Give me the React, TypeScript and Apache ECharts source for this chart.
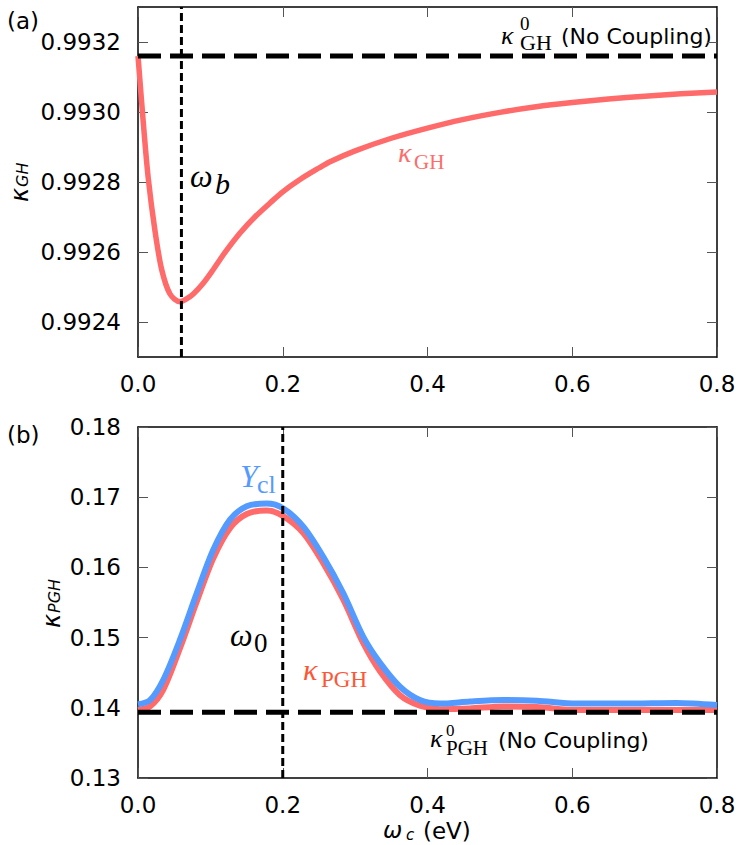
import React, { useEffect, useRef } from "react";
import * as echarts from "echarts";

// ---------- data ----------
const xTicks = [0, 0.2, 0.4, 0.6, 0.8];
const topYTicks = [0.9924, 0.9926, 0.9928, 0.993, 0.9932];
const botYTicks = [0.13, 0.14, 0.15, 0.16, 0.17, 0.18];

const ghX = [0, 0.0073, 0.0142, 0.0235, 0.0327, 0.0442, 0.058, 0.067, 0.0764, 0.0898, 0.104, 0.12, 0.141, 0.1615, 0.1824, 0.2, 0.2238, 0.25, 0.2653, 0.3, 0.35, 0.4, 0.45, 0.5, 0.55, 0.6, 0.65, 0.7, 0.75, 0.8];
const ghY = [0.99316, 0.99297, 0.99281, 0.99266, 0.99255, 0.99248, 0.992458, 0.992466, 0.99248, 0.99251, 0.99255, 0.992598, 0.992654, 0.9927, 0.99274, 0.992772, 0.992807, 0.99284, 0.992858, 0.992889, 0.992925, 0.992954, 0.992979, 0.992999, 0.993015, 0.993027, 0.993037, 0.993045, 0.993052, 0.993057];
const kappaGH0 = 0.99316;
const omegaB = 0.06;

const pghX = [0, 0.0166, 0.035, 0.058, 0.0811, 0.104, 0.1271, 0.1502, 0.1778, 0.2008, 0.2284, 0.256, 0.2837, 0.3113, 0.3344, 0.362, 0.3896, 0.4173, 0.4587, 0.5047, 0.5509, 0.606, 0.675, 0.744, 0.8];
const yclY = [0.1405, 0.1411, 0.144, 0.1497, 0.1563, 0.1625, 0.1668, 0.1687, 0.1691, 0.1684, 0.1658, 0.1615, 0.1563, 0.1501, 0.1464, 0.143, 0.1411, 0.1406, 0.1409, 0.1411, 0.141, 0.1406, 0.1406, 0.1407, 0.1404];
const pghY = [0.1397, 0.1402, 0.1426, 0.1485, 0.1551, 0.1613, 0.1656, 0.1676, 0.1681, 0.1673, 0.1649, 0.1606, 0.1554, 0.1492, 0.1452, 0.1418, 0.1403, 0.1398, 0.1399, 0.1402, 0.1401, 0.1397, 0.1397, 0.1397, 0.1397];
const kappaPGH0 = 0.13937;
const omega0 = 0.2;

const xRange = [0, 0.8];
const topYRange = [0.9923, 0.9933];
const botYRange = [0.13, 0.18];

// ---------- styles ----------
const RED = "#ff6b6b";
const BLUE = "#559bff";
const RED_LABEL = "#ff5535";
const SANS = "DejaVu Sans";
const SERIF = "Liberation Serif";

const zip = (xs: number[], ys: number[]) => xs.map((x, i) => [x, ys[i]]);

function txt(text: string, x: number, y: number, size: number, opts: any = {}) {
  return {
    type: "text",
    x,
    y,
    silent: true,
    style: {
      text,
      fontSize: size,
      lineHeight: Math.round(size * 0.9),
      fontFamily: opts.family || SERIF,
      fontStyle: opts.italic ? "italic" : "normal",
      fill: opts.color || "#000",
      align: opts.align || "left",
      verticalAlign: "middle",
    },
  };
}

// superscript stacked over subscript, as one text block
function supSub(sup: string, sub: string, x: number, y: number, supSize: number, subSize: number, gap: number) {
  return {
    type: "text",
    x,
    y,
    silent: true,
    style: {
      text: `{p|${sup}}\n{b|${sub}}`,
      fill: "#000",
      align: "left",
      verticalAlign: "middle",
      rich: {
        p: { fontSize: supSize, fontFamily: SERIF, lineHeight: gap, fill: "#000" },
        b: { fontSize: subSize, fontFamily: SERIF, lineHeight: gap, fill: "#000" },
      },
    },
  };
}

export default function App() {
  const ref = useRef<HTMLDivElement>(null);
  useEffect(() => {
    if (!ref.current) return;
    const chart = echarts.init(ref.current, null, { renderer: "svg" });

    const axisLine = { show: true, onZero: false, lineStyle: { color: "#000", width: 1.5 } };
    const tickStyle = { inside: true, length: 10, lineStyle: { color: "#555", width: 1 } };
    const labelFont = { fontSize: 23, fontFamily: SANS, color: "#000" };

    const xAxes: any[] = [];
    const yAxes: any[] = [];
    [0, 1].forEach((g) => {
      ["bottom", "top"].forEach((pos) => {
        xAxes.push({
          type: "value",
          gridIndex: g,
          position: pos,
          min: xRange[0],
          max: xRange[1],
          interval: 0.2,
          axisLine,
          axisTick: { ...tickStyle, customValues: xTicks },
          axisLabel: {
            show: pos === "bottom",
            ...labelFont,
            margin: 15,
            customValues: xTicks,
            formatter: (v: number) => v.toFixed(1),
          },
          splitLine: { show: false },
        });
      });
      const yr = g === 0 ? topYRange : botYRange;
      const yt = g === 0 ? topYTicks : botYTicks;
      const dig = g === 0 ? 4 : 2;
      ["left", "right"].forEach((pos) => {
        yAxes.push({
          type: "value",
          gridIndex: g,
          position: pos,
          min: yr[0],
          max: yr[1],
          axisLine,
          axisTick: { ...tickStyle, customValues: yt },
          axisLabel: {
            show: pos === "left",
            ...labelFont,
            margin: 17,
            customValues: yt,
            formatter: (v: number) => v.toFixed(dig),
          },
          splitLine: { show: false },
        });
      });
    });

    const line = (data: number[][], xi: number, yi: number, color: string, width: number, type: any = "solid") => ({
      type: "line",
      xAxisIndex: xi,
      yAxisIndex: yi,
      data,
      symbol: "none",
      showSymbol: false,
      smooth: 0.3,
      silent: true,
      lineStyle: { color, width, type, cap: "butt" },
    });

    const graphic: any[] = [
      // panel (a)
      txt("(a)", 7, 21, 23, { family: SANS }),
      txt("κ", 501, 35, 26, { italic: true }),
      supSub("0", "GH", 520, 33, 19, 22, 19),
      txt("(No Coupling)", 561, 36, 22, { family: SANS }),
      txt("ω", 190, 176, 32, { italic: true }),
      txt("b", 215, 183, 30, { italic: true }),
      txt("κ", 398, 152, 28, { italic: true, color: RED }),
      txt("GH", 414, 161.5, 21, { color: RED }),
      {
        type: "group",
        x: 20,
        y: 202,
        rotation: Math.PI / 2,
        children: [
          txt("κ", 0, 0, 24, { italic: true, family: SANS }),
          txt("GH", 15, 2.5, 16, { italic: true, family: SANS }),
        ],
      },
      // panel (b)
      txt("(b)", 7, 435, 23, { family: SANS }),
      txt("Y", 240, 476, 32, { italic: true, color: BLUE }),
      txt("cl", 257, 484, 26, { color: BLUE }),
      txt("ω", 230, 635, 32, { italic: true }),
      txt("0", 254, 642.5, 27),
      txt("κ", 303, 669, 30, { italic: true, color: RED_LABEL }),
      txt("PGH", 321, 679.5, 23, { color: RED_LABEL }),
      txt("κ", 430, 738.5, 26, { italic: true }),
      supSub("0", "PGH", 446, 739, 17, 21, 18),
      txt("(No Coupling)", 498, 740.5, 22, { family: SANS }),
      {
        type: "group",
        x: 52,
        y: 628,
        rotation: Math.PI / 2,
        children: [
          txt("κ", 0, 0, 24, { italic: true, family: SANS }),
          txt("PGH", 15, 2.5, 16, { italic: true, family: SANS }),
        ],
      },
      txt("ω", 383, 830, 23, { italic: true, family: SANS }),
      txt("c", 406, 835, 15, { italic: true, family: SANS }),
      txt("(eV)", 423, 831, 23, { family: SANS }),
    ];

    chart.setOption({
      animation: false,
      backgroundColor: "#fff",
      grid: [
        { left: 138, top: 7, right: 30, height: 350, show: false, outerBoundsMode: "none", containLabel: false },
        { left: 138, top: 427, right: 30, height: 351, show: false, outerBoundsMode: "none", containLabel: false },
      ],
      xAxis: xAxes,
      yAxis: yAxes,
      series: [
        line(zip(ghX, ghY), 0, 0, RED, 5.5),
        { ...line([[xRange[0], kappaGH0], [xRange[1], kappaGH0]], 0, 0, "#000", 5, [23, 9]), smooth: false },
        { ...line([[omegaB, topYRange[0]], [omegaB, topYRange[1]]], 0, 0, "#000", 3, [8, 4]), smooth: false },
        line(zip(pghX, pghY), 2, 2, RED, 6),
        line(zip(pghX, yclY), 2, 2, BLUE, 6),
        { ...line([[xRange[0], kappaPGH0], [xRange[1], kappaPGH0]], 2, 2, "#000", 5, [23, 9]), smooth: false },
        { ...line([[omega0, botYRange[0]], [omega0, botYRange[1]]], 2, 2, "#000", 3, [8, 4]), smooth: false },
      ],
      graphic,
    });
    return () => chart.dispose();
  }, []);
  return <div ref={ref} style={{ position: "absolute", left: 0, top: 0, width: 747, height: 845 }} />;
}
